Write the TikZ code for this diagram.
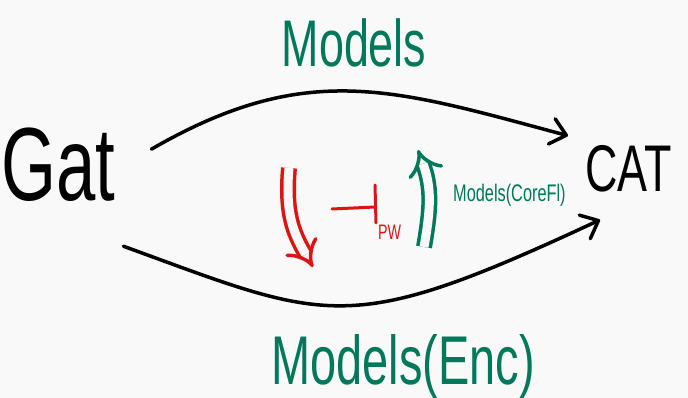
\documentclass[tikz,border=0pt]{standalone}
\usepackage{fontspec}
\usetikzlibrary{arrows.meta}

\newfontfamily\handfont[FakeStretch=0.68]{Liberation Sans}
\newcommand{\handsize}[1]{\handfont\fontsize{#1}{#1}\selectfont}

\definecolor{paper}{RGB}{249,249,249}
\definecolor{modelGreen}{RGB}{0,120,90}
\definecolor{pwRed}{RGB}{220,20,20}

\tikzstyle{obj} = [inner sep=0pt, anchor=base west, text=black, font={\handsize{66}}]
\tikzstyle{greenText} = [inner sep=0pt, anchor=base, text=modelGreen]
\tikzstyle{redText} = [inner sep=0pt, anchor=base west, text=pwRed, font={\handsize{21}}]
\tikzstyle{functor} = [draw=black, line width=3.5pt, line cap=round, -{Straight Barb[length=15pt,width=26pt,round]}]
\tikzstyle{twoCell} = [line width=3.5pt, double=paper, double distance=9pt, line cap=butt, -{Implies[scale=1.8]}]

\begin{document}
\begin{tikzpicture}[x=1pt,y=1pt]
            \fill[paper] (0,0) rectangle (688,398);
            \useasboundingbox (0,0) rectangle (688,398);
            % the two categories
            \node[obj, font={\handsize{104}}] (Gat) at (1,197) {Gat};
            \node[obj] (CAT) at (585,206) {CAT};
            % functors
            \node[greenText, font={\handsize{66}}] (models) at (354,331) {Models};
            \node[greenText, font={\handsize{69}}] (modelsEnc) at (403,13) {Models(Enc)};
            \draw[functor] ([shift={(36,16)}]Gat.east) .. controls +(30:180) and +(165:180) .. ([shift={(-17,10)}]CAT.north west);
            \draw[functor] ([shift={(8,-44)}]Gat.south east) .. controls +(-20:220) and +(205:280) .. ([shift={(15,-27)}]CAT.south west);
            % natural transformations
            \coordinate (downTop) at (289,230);
            \coordinate (downTip) at (313,131);
            \coordinate (upBot) at (424,151);
            \coordinate (upTip) at (418,248);
            \draw[twoCell, pwRed] (downTop) .. controls +(-95:45) and +(120:40) .. (downTip);
            \draw[twoCell, modelGreen] (upBot) .. controls +(80:40) and +(-70:40) .. (upTip);
            \node[greenText, anchor=base west, font={\handsize{24}}] (modelsCore) at (453,196) {Models(CoreFl)};
            % adjunction
            \coordinate (adj) at (375,191);
            \draw[pwRed, line width=3pt, line cap=round] (adj) -- ++(-43,-2) (adj) ++(0,22) -- ++(1,-38);
            \node[redText] (pw) at (378,158) {PW};
        \end{tikzpicture}
\end{document}
